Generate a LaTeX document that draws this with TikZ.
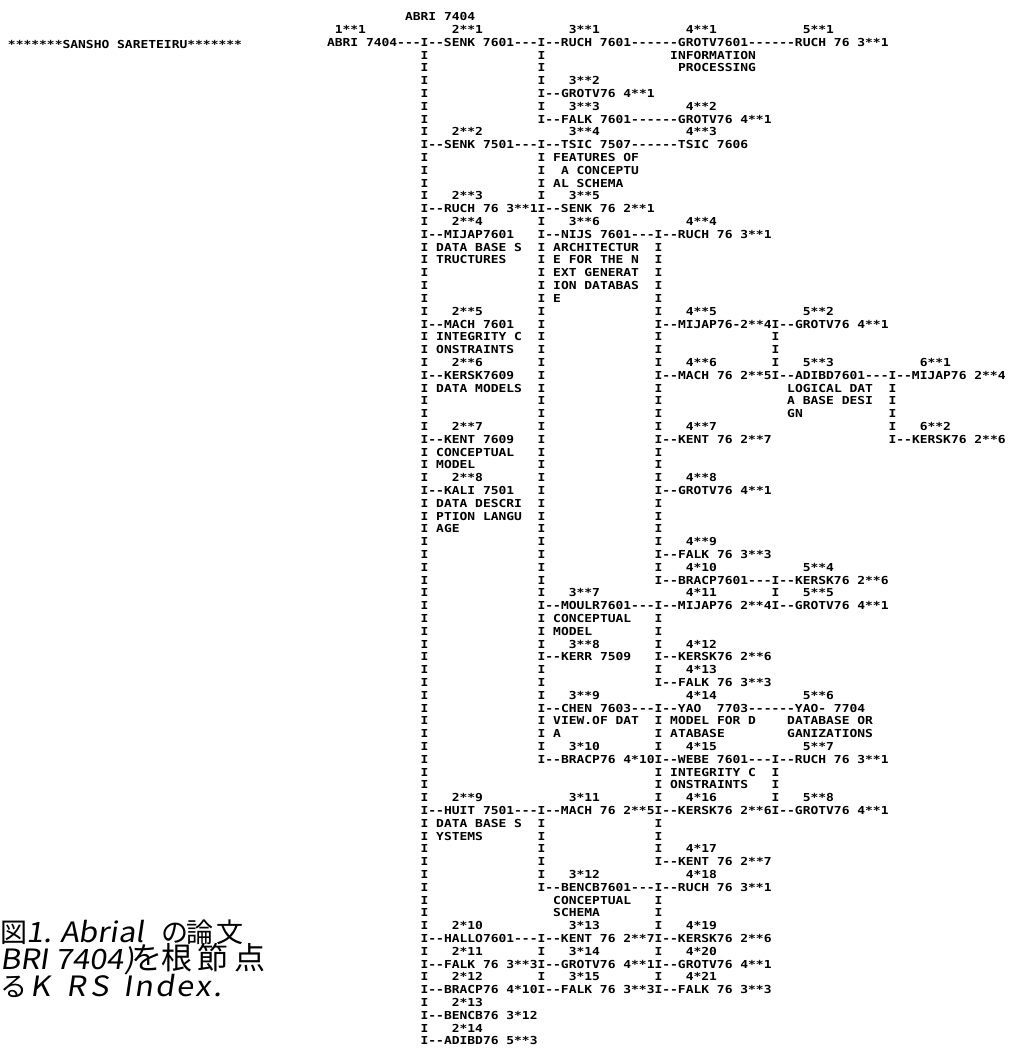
\documentclass[tikz,border=0pt]{standalone}
\usepackage{fontspec}
\newfontfamily\lp[FakeStretch=1.1778,Ligatures=TeXOff]{DejaVu Sans Mono Bold}
\newfontfamily\jp{Noto Sans CJK JP}
\newfontfamily\jpl[FakeSlant=0.15,FakeStretch=1.1]{Noto Sans CJK JP}
\newcommand\fixsp{\setbox0=\hbox{0}\fontdimen2\font=\wd0 \fontdimen3\font=0pt \fontdimen4\font=0pt \fontdimen7\font=0pt\frenchspacing}
\tikzset{
  txt/.style={anchor=base west,inner sep=0pt,outer sep=0pt,text=black,
    font=\lp\fontsize{11}{13}\selectfont\fixsp},
  captxt/.style={anchor=base west,inner sep=0pt,outer sep=0pt,text=black,
    font=\jp\fontsize{27}{30}\selectfont},
  capbig/.style={captxt,font=\jp\fontsize{31}{34}\selectfont},
  caplat/.style={captxt,font=\jpl\fontsize{28}{30}\selectfont}
}
\newcommand\T[3]{\node[txt] (r#1c#2) at ({327+7.8*#2},{20.8+12.8*#1}) {#3};}
\newcommand\Bars[2]{\foreach \cc in {#2}{\T{#1}{\cc}{I}}}
\begin{document}
\begin{tikzpicture}[x=1pt,y=-1pt]
\fill[white] (0,0) rectangle (1008,1048);
\useasboundingbox (0,0) rectangle (1008,1048);
\node[txt] (sansho) at (8,49) {*******SANSHO SARETEIRU*******};
\T{0}{10}{ABRI 7404}
\T{1}{1}{1**1} \T{1}{16}{2**1} \T{1}{31}{3**1} \T{1}{46}{4**1} \T{1}{61}{5**1}
\T{2}{0}{ABRI 7404---I--SENK 7601---I--RUCH 7601------GROTV7601------RUCH 76 3**1}
\Bars{3}{12,27} \T{3}{44}{INFORMATION}
\Bars{4}{12,27} \T{4}{45}{PROCESSING}
\Bars{5}{12,27} \T{5}{31}{3**2}
\Bars{6}{12} \T{6}{27}{I--GROTV76 4**1}
\Bars{7}{12,27} \T{7}{31}{3**3} \T{7}{46}{4**2}
\Bars{8}{12} \T{8}{27}{I--FALK 7601------GROTV76 4**1}
\Bars{9}{12} \T{9}{16}{2**2} \T{9}{31}{3**4} \T{9}{46}{4**3}
\T{10}{12}{I--SENK 7501---I--TSIC 7507------TSIC 7606}
\Bars{11}{12,27} \T{11}{29}{FEATURES OF}
\Bars{12}{12,27} \T{12}{30}{A CONCEPTU}
\Bars{13}{12,27} \T{13}{29}{AL SCHEMA}
\Bars{14}{12,27} \T{14}{16}{2**3} \T{14}{31}{3**5}
\T{15}{12}{I--RUCH 76 3**1I--SENK 76 2**1}
\Bars{16}{12,27} \T{16}{16}{2**4} \T{16}{31}{3**6} \T{16}{46}{4**4}
\T{17}{12}{I--MIJAP7601} \T{17}{27}{I--NIJS 7601---I--RUCH 76 3**1}
\Bars{18}{12,27,42} \T{18}{14}{DATA BASE S} \T{18}{29}{ARCHITECTUR}
\Bars{19}{12,27,42} \T{19}{14}{TRUCTURES} \T{19}{29}{E FOR THE N}
\Bars{20}{12,27,42} \T{20}{29}{EXT GENERAT}
\Bars{21}{12,27,42} \T{21}{29}{ION DATABAS}
\Bars{22}{12,27,42} \T{22}{29}{E}
\Bars{23}{12,27,42} \T{23}{16}{2**5} \T{23}{46}{4**5} \T{23}{61}{5**2}
\Bars{24}{27} \T{24}{12}{I--MACH 7601} \T{24}{42}{I--MIJAP76-2**4I--GROTV76 4**1}
\Bars{25}{12,27,42,57} \T{25}{14}{INTEGRITY C}
\Bars{26}{12,27,42,57} \T{26}{14}{ONSTRAINTS}
\Bars{27}{12,27,42,57} \T{27}{16}{2**6} \T{27}{46}{4**6} \T{27}{61}{5**3} \T{27}{76}{6**1}
\Bars{28}{27} \T{28}{12}{I--KERSK7609} \T{28}{42}{I--MACH 76 2**5I--ADIBD7601---I--MIJAP76 2**4}
\Bars{29}{12,27,42,72} \T{29}{14}{DATA MODELS} \T{29}{59}{LOGICAL DAT}
\Bars{30}{12,27,42,72} \T{30}{59}{A BASE DESI}
\Bars{31}{12,27,42,72} \T{31}{59}{GN}
\Bars{32}{12,27,42,72} \T{32}{16}{2**7} \T{32}{46}{4**7} \T{32}{76}{6**2}
\Bars{33}{27} \T{33}{12}{I--KENT 7609} \T{33}{42}{I--KENT 76 2**7} \T{33}{72}{I--KERSK76 2**6}
\Bars{34}{12,27,42} \T{34}{14}{CONCEPTUAL}
\Bars{35}{12,27,42} \T{35}{14}{MODEL}
\Bars{36}{12,27,42} \T{36}{16}{2**8} \T{36}{46}{4**8}
\Bars{37}{27} \T{37}{12}{I--KALI 7501} \T{37}{42}{I--GROTV76 4**1}
\Bars{38}{12,27,42} \T{38}{14}{DATA DESCRI}
\Bars{39}{12,27,42} \T{39}{14}{PTION LANGU}
\Bars{40}{12,27,42} \T{40}{14}{AGE}
\Bars{41}{12,27,42} \T{41}{46}{4**9}
\Bars{42}{12,27} \T{42}{42}{I--FALK 76 3**3}
\Bars{43}{12,27,42} \T{43}{46}{4*10} \T{43}{61}{5**4}
\Bars{44}{12,27} \T{44}{42}{I--BRACP7601---I--KERSK76 2**6}
\Bars{45}{12,27,57} \T{45}{31}{3**7} \T{45}{46}{4*11} \T{45}{61}{5**5}
\Bars{46}{12} \T{46}{27}{I--MOULR7601---I--MIJAP76 2**4I--GROTV76 4**1}
\Bars{47}{12,27,42} \T{47}{29}{CONCEPTUAL}
\Bars{48}{12,27,42} \T{48}{29}{MODEL}
\Bars{49}{12,27,42} \T{49}{31}{3**8} \T{49}{46}{4*12}
\Bars{50}{12} \T{50}{27}{I--KERR 7509} \T{50}{42}{I--KERSK76 2**6}
\Bars{51}{12,27,42} \T{51}{46}{4*13}
\Bars{52}{12,27} \T{52}{42}{I--FALK 76 3**3}
\Bars{53}{12,27} \T{53}{31}{3**9} \T{53}{46}{4*14} \T{53}{61}{5**6}
\Bars{54}{12} \T{54}{27}{I--CHEN 7603---I--YAO\ \ 7703------YAO- 7704}
\Bars{55}{12,27,42} \T{55}{29}{VIEW.OF DAT} \T{55}{44}{MODEL FOR D} \T{55}{59}{DATABASE OR}
\Bars{56}{12,27,42} \T{56}{29}{A} \T{56}{44}{ATABASE} \T{56}{59}{GANIZATIONS}
\Bars{57}{12,27,42} \T{57}{31}{3*10} \T{57}{46}{4*15} \T{57}{61}{5**7}
\Bars{58}{12} \T{58}{27}{I--BRACP76 4*10I--WEBE 7601---I--RUCH 76 3**1}
\Bars{59}{12,42,57} \T{59}{44}{INTEGRITY C}
\Bars{60}{12,42,57} \T{60}{44}{ONSTRAINTS}
\Bars{61}{12,42,57} \T{61}{16}{2**9} \T{61}{31}{3*11} \T{61}{46}{4*16} \T{61}{61}{5**8}
\T{62}{12}{I--HUIT 7501---I--MACH 76 2**5I--KERSK76 2**6I--GROTV76 4**1}
\Bars{63}{12,27,42} \T{63}{14}{DATA BASE S}
\Bars{64}{12,27,42} \T{64}{14}{YSTEMS}
\Bars{65}{12,27,42} \T{65}{46}{4*17}
\Bars{66}{12,27} \T{66}{42}{I--KENT 76 2**7}
\Bars{67}{12,27} \T{67}{31}{3*12} \T{67}{46}{4*18}
\Bars{68}{12} \T{68}{27}{I--BENCB7601---I--RUCH 76 3**1}
\Bars{69}{12,42} \T{69}{29}{CONCEPTUAL}
\Bars{70}{12,42} \T{70}{29}{SCHEMA}
\Bars{71}{12,42} \T{71}{16}{2*10} \T{71}{31}{3*13} \T{71}{46}{4*19}
\T{72}{12}{I--HALLO7601---I--KENT 76 2**7I--KERSK76 2**6}
\Bars{73}{12,27,42} \T{73}{16}{2*11} \T{73}{31}{3*14} \T{73}{46}{4*20}
\T{74}{12}{I--FALK 76 3**3I--GROTV76 4**1I--GROTV76 4**1}
\Bars{75}{12,27,42} \T{75}{16}{2*12} \T{75}{31}{3*15} \T{75}{46}{4*21}
\T{76}{12}{I--BRACP76 4*10I--FALK 76 3**3I--FALK 76 3**3}
\Bars{77}{12} \T{77}{16}{2*13}
\T{78}{12}{I--BENCB76 3*12}
\Bars{79}{12} \T{79}{16}{2*14}
\T{80}{12}{I--ADIBD76 5**3}
% caption
\node[captxt] (c1a) at (0,942) {図};
\node[caplat] (c1n) at (26,942) {1.};
\node[caplat] (c1b) at (60,942) {Abrial};
\node[captxt] (c1c) at (161,942) {の};
\node[captxt] (c1d) at (186,942) {論};
\node[captxt] (c1e) at (216,942) {文};
\node[caplat] (c2a) at (0,969) {BRI 7404)};
\node[capbig] (c2b) at (131,969) {を};
\node[capbig] (c2c) at (161,969) {根};
\node[capbig] (c2d) at (197,969) {節};
\node[capbig] (c2e) at (234,969) {点};
\node[captxt] (c3a) at (0,996) {る};
\node[caplat] (c3b) at (30,996) {K};
\node[caplat] (c3c) at (66,996) {R};
\node[caplat] (c3d) at (90,996) {S};
\node[caplat,font=\jpl\addfontfeature{LetterSpace=8}\fontsize{28}{30}\selectfont] (c3e) at (123,996) {Index.};
\end{tikzpicture}
\end{document}
